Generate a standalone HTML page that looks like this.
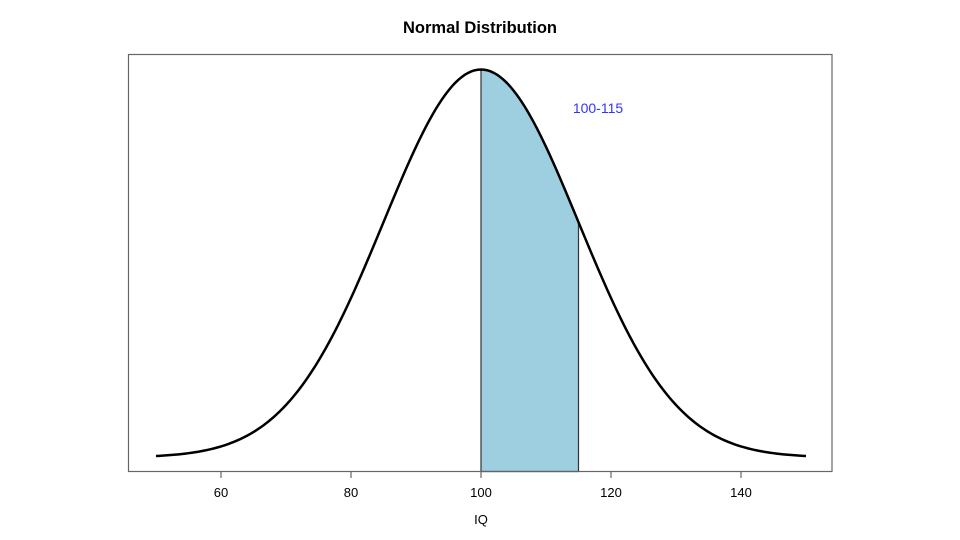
<!DOCTYPE html>
<html><head><meta charset="utf-8"><style>body{margin:0;background:#fff}svg{display:block}</style></head>
<body>
<svg id="s" width="960" height="540" xmlns="http://www.w3.org/2000/svg" font-family="Liberation Sans, Arial, sans-serif">
<text x="480" y="33" text-anchor="middle" font-size="16.5" font-weight="bold">Normal Distribution</text>
<path id="shade" fill="#9ecfe0" stroke="#333" stroke-width="1.2"/>
<path id="curve" fill="none" stroke="#000" stroke-width="2.5"/>
<rect x="128.5" y="54.5" width="703.5" height="417" fill="none" stroke="#666" stroke-width="1.2"/>
<g stroke="#666" stroke-width="1.2">
<line x1="221" y1="471.5" x2="221" y2="478"/><line x1="351" y1="471.5" x2="351" y2="478"/><line x1="481" y1="471.5" x2="481" y2="478"/><line x1="611" y1="471.5" x2="611" y2="478"/><line x1="741" y1="471.5" x2="741" y2="478"/>
</g>
<g font-size="13" text-anchor="middle" fill="#000">
<text x="221" y="497">60</text><text x="351" y="497">80</text><text x="481" y="497">100</text><text x="611" y="497">120</text><text x="741" y="497">140</text>
<text x="481" y="524">IQ</text>
</g>
<text x="598" y="113" text-anchor="middle" font-size="14" fill="#3333ff">100-115</text>
<script>
function px(v){return 481+(v-100)*6.5}
function py(v){return 457.5-388*Math.exp(-0.5*Math.pow((v-100)/15,2))}
var d="";for(var v=50;v<=150.001;v+=0.5){d+=(d?"L":"M")+px(v).toFixed(2)+","+py(v).toFixed(2)}
document.getElementById("curve").setAttribute("d",d);
var s="M481,471.5";for(var v=100;v<=115.001;v+=0.25){s+="L"+px(v).toFixed(2)+","+py(v).toFixed(2)}
s+="L"+px(115)+",471.5Z";document.getElementById("shade").setAttribute("d",s);
</script>
</svg>
</body></html>
